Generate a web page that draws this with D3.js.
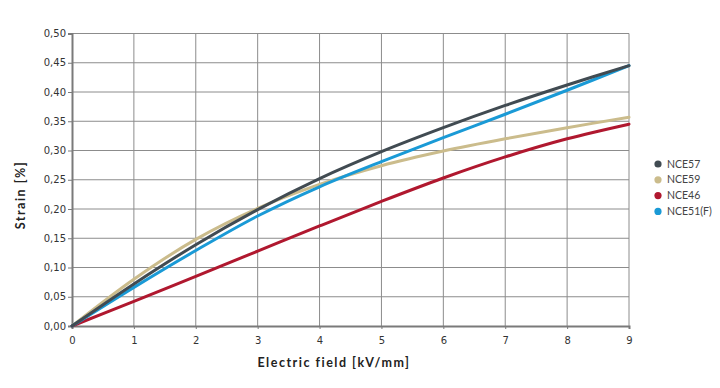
<!DOCTYPE html>
<html>
<head>
<meta charset="utf-8">
<script src="https://cdn.jsdelivr.net/npm/d3@7"></script>
<style>
  body { margin: 0; background: #fff; }
  svg { display: block; }
</style>
</head>
<body>
<div id="chart"></div>
<script>
// values
const fields = [0, 1, 2, 3, 4, 5, 6, 7, 8, 9];
const seriesNames = ["NCE57", "NCE59", "NCE46", "NCE51(F)"];
const nce57 = [0, 0.072, 0.139, 0.199, 0.252, 0.298, 0.339, 0.377, 0.412, 0.445];
const nce59 = [0, 0.080, 0.148, 0.201, 0.242, 0.274, 0.299, 0.320, 0.339, 0.357];
const nce46 = [0, 0.042, 0.085, 0.128, 0.171, 0.213, 0.253, 0.289, 0.320, 0.345];
const nce51 = [0, 0.066, 0.129, 0.188, 0.238, 0.281, 0.322, 0.362, 0.403, 0.445];
const colors = ["#414b52", "#cbbc8c", "#b0182f", "#1a9ad6"];
const yTicks = [0, 0.05, 0.10, 0.15, 0.20, 0.25, 0.30, 0.35, 0.40, 0.45, 0.50];

const width = 720;
const height = 388;
const margin = { top: 33.5, right: 91, bottom: 62, left: 72 };

const svg = d3.select("#chart")
    .append("svg")
    .attr("width", width)
    .attr("height", height);

const x = d3.scaleLinear()
    .domain([0, 9])
    .range([margin.left, width - margin.right]);

const y = d3.scaleLinear()
    .domain([0, 0.5])
    .range([height - margin.bottom, margin.top]);

// grid
svg.append("g")
    .selectAll("line")
    .data(fields.slice(1))
    .enter()
    .append("line")
    .attr("x1", d => x(d)).attr("x2", d => x(d))
    .attr("y1", y(0)).attr("y2", y(0.5))
    .attr("stroke", "#8c8c8c")
    .attr("stroke-width", 1);

svg.append("g")
    .selectAll("line")
    .data(yTicks.slice(1))
    .enter()
    .append("line")
    .attr("x1", x(0)).attr("x2", x(9))
    .attr("y1", d => y(d)).attr("y2", d => y(d))
    .attr("stroke", "#8c8c8c")
    .attr("stroke-width", 1);

const fmt = d => d3.format(".2f")(d).replace(".", ",");

const leftAxis = d3.axisLeft(y).tickValues(yTicks).tickFormat(fmt).tickSize(4).tickPadding(2);
const bottomAxis = d3.axisBottom(x).tickValues(fields).tickFormat(d3.format("d")).tickSize(3).tickPadding(8);

const gy = svg.append("g")
    .attr("transform", `translate(${x(0)},0)`)
    .call(leftAxis);

const gx = svg.append("g")
    .attr("transform", `translate(0,${y(0)})`)
    .call(bottomAxis);

[gx, gy].forEach(g => {
    g.select(".domain").attr("stroke", "#7a7a7a").attr("stroke-width", 2);
    g.selectAll(".tick line").attr("stroke", "#7a7a7a");
    g.selectAll("text")
        .style("font-family", "'DejaVu Sans', sans-serif")
        .style("font-size", "10px")
        .attr("fill", "#333");
});

// lines
const line = d3.line()
    .x((d, i) => x(fields[i]))
    .y(d => y(d))
    .curve(d3.curveCatmullRom);

const allSeries = [nce57, nce59, nce46, nce51];

svg.append("g")
    .selectAll("path")
    .data([nce59, nce46, nce51, nce57])
    .enter()
    .append("path")
    .attr("d", d => line(d))
    .attr("fill", "none")
    .attr("stroke", d => colors[allSeries.indexOf(d)])
    .attr("stroke-width", 3)
    .attr("stroke-linecap", "round");

// legend
const legend = svg.append("g")
    .selectAll("g")
    .data(seriesNames)
    .enter()
    .append("g")
    .attr("transform", (d, i) => `translate(658, ${164 + i * 15.8})`);

legend.append("circle")
    .attr("r", 3.6)
    .attr("fill", (d, i) => colors[i]);

legend.append("text")
    .attr("x", 9)
    .attr("dy", "0.35em")
    .style("font-family", "Lato, sans-serif")
    .style("font-size", "10.5px")
    .attr("fill", "#444")
    .text(d => d);

// axis titles
svg.append("text")
    .attr("x", 334)
    .attr("y", 367)
    .attr("text-anchor", "middle")
    .style("font-family", "Lato, sans-serif")
    .style("font-weight", "bold")
    .style("font-size", "12.5px")
    .style("letter-spacing", "1.5px")
    .attr("fill", "#222")
    .text("Electric field [kV/mm]");

svg.append("text")
    .attr("transform", "translate(25,195) rotate(-90)")
    .attr("text-anchor", "middle")
    .style("font-family", "Lato, sans-serif")
    .style("font-weight", "bold")
    .style("font-size", "12.5px")
    .style("letter-spacing", "1.5px")
    .attr("fill", "#222")
    .text("Strain [%]");
</script>
</body>
</html>
